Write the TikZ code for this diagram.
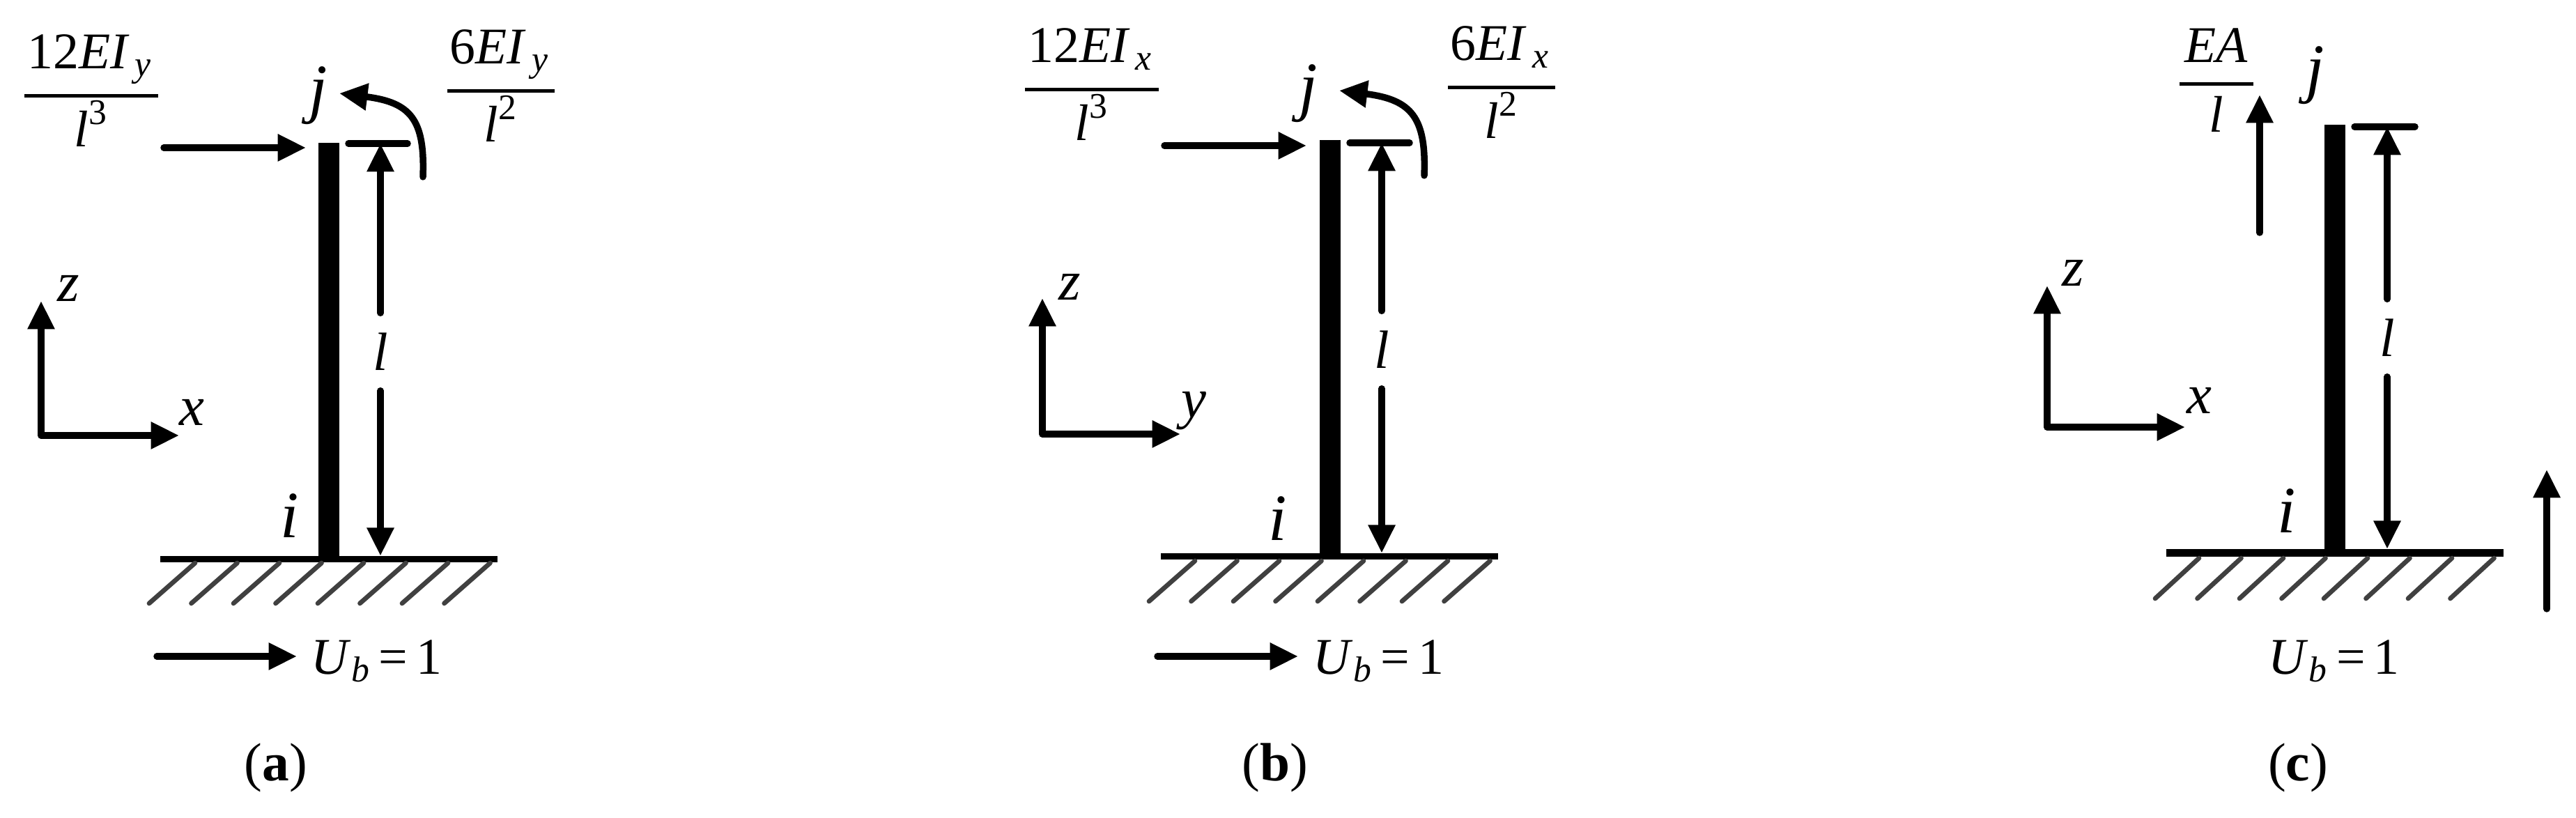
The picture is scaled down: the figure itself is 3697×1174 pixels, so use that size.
\documentclass[tikz,border=0pt]{standalone}
\usepackage{fontspec}
\usepackage{amsmath}
\setmainfont{Liberation Serif}
\usetikzlibrary{arrows.meta,positioning}

\newcommand{\vi}[1]{\text{\textit{#1}}}
\newcommand{\barfrac}[2]{\genfrac{}{}{1.3pt}{1}{\displaystyle\rule[-9pt]{0pt}{0pt}#1}{\displaystyle #2}}

\begin{document}
\begin{tikzpicture}[
    x=0.01cm, y=-0.01cm,
    member/.style={fill=black, inner sep=0pt, minimum width=0.3cm},
    ground/.style={fill=black, inner sep=0pt, minimum width=4.83cm, minimum height=0.09cm},
    hatch/.style={line width=1.9pt, draw=black!75, line cap=round},
    arrow/.style={-{Triangle[length=11.5pt, width=10.5pt]}, line width=2.7pt, line cap=round},
    line/.style={line width=2.7pt, line cap=round},
    label/.style={font=\fontsize{21}{25}\selectfont, inner sep=0pt},
    axis label/.style={font=\fontsize{23}{25}\selectfont\itshape, inner sep=0pt},
    node label/.style={font=\fontsize{27}{30}\selectfont\itshape, inner sep=0pt},
    dim label/.style={font=\fontsize{22}{25}\selectfont\itshape, inner sep=0pt, minimum height=1.1cm},
    caption/.style={font=\fontsize{22}{25}\selectfont, inner sep=0pt}
]
\useasboundingbox (0,0) rectangle (3697,1174);

% panel a
\node[member, minimum height=5.95cm] (colA) at (472,503) {};
\node[ground] (baseA) at (472,803) {};
\foreach \k in {0,...,7} \draw[hatch] ({280+60.5*\k},808) -- ++(-66,58);
\node[node label] (jA) at (457,137) {j};
\node[node label] (iA) at (416,740) {i};
\node[dim label] (lA) at (546,505) {l};
\coordinate (tickAl) at (500,206);
\coordinate (tickAr) at (585,206);
\draw[line] (tickAl) -- (tickAr);
\draw[arrow] (lA.north) -- (lA.north |- tickAr);
\draw[arrow] (lA.south) -- (lA.south |- baseA.north);
\node[label] (fracAa) at (131,130) {$\barfrac{\mkern1mu\text{12}\vi{EI}\mkern2mu_{\vi{y}}\mkern2mu}{\vi{l}^{\text{3}}}$};
\node[label] (fracAb) at (719,123) {$\barfrac{\mkern1mu\text{6}\vi{EI}\mkern2mu_{\vi{y}}\mkern2mu}{\vi{l}^{\text{2}}}$};
\coordinate (loadA) at (235,212);
\coordinate (loadAe) at (439,212);
\draw[arrow] (loadA) -- (loadAe);
\coordinate (turnA) at (607,254);
\coordinate (turnAe) at (487,134);
\draw[arrow] (turnA) .. controls (610,172) and (590,147) .. (turnAe);
\coordinate (axisA) at (59,625);
\node[axis label] (zA) at (98,414) {z};
\node[axis label] (xA) at (275,592) {x};
\coordinate (zAe) at (59,432);
\coordinate (xAe) at (257,625);
\draw[arrow] (axisA) -- (zAe);
\draw[arrow] (axisA) -- (xAe);
\coordinate (unitA) at (225,942);
\node[label, anchor=west] (ubA) at (446,949) {$\vi{U}_{\vi{b}}$\,=\,1};
\draw[arrow] (unitA) -- (426,942);
\node[caption] (capA) at (396,1102) {(\textbf{a})};

% panel b
\node[member, minimum height=5.95cm] (colB) at (1908.5,499) {};
\node[ground] (baseB) at (1908,799) {};
\foreach \k in {0,...,7} \draw[hatch] ({1715+60.5*\k},805) -- ++(-66,58);
\node[node label] (jB) at (1878,134) {j};
\node[node label] (iB) at (1834,744) {i};
\node[dim label] (lB) at (1983,502) {l};
\coordinate (tickBl) at (1937,205);
\coordinate (tickBr) at (2023,205);
\draw[line] (tickBl) -- (tickBr);
\draw[arrow] (lB.north) -- (lB.north |- tickBr);
\draw[arrow] (lB.south) -- (lB.south |- baseB.north);
\node[label] (fracBa) at (1567,121) {$\barfrac{\mkern1mu\text{12}\vi{EI}\mkern2mu_{\vi{x}}\mkern2mu}{\vi{l}^{\text{3}}}$};
\node[label] (fracBb) at (2155,118) {$\barfrac{\mkern1mu\text{6}\vi{EI}\mkern2mu_{\vi{x}}\mkern2mu}{\vi{l}^{\text{2}}}$};
\coordinate (loadB) at (1671,209);
\coordinate (loadBe) at (1875,209);
\draw[arrow] (loadB) -- (loadBe);
\coordinate (turnB) at (2044,252);
\coordinate (turnBe) at (1922,130);
\draw[arrow] (turnB) .. controls (2047,170) and (2027,143) .. (turnBe);
\coordinate (axisB) at (1496,623);
\node[axis label] (zB) at (1535,412) {z};
\node[axis label] (yB) at (1713,590) {y};
\coordinate (zBe) at (1496,428);
\coordinate (yBe) at (1694,623);
\draw[arrow] (axisB) -- (zBe);
\draw[arrow] (axisB) -- (yBe);
\coordinate (unitB) at (1661,942);
\node[label, anchor=west] (ubB) at (1884,949) {$\vi{U}_{\vi{b}}$\,=\,1};
\draw[arrow] (unitB) -- (1863,942);
\node[caption] (capB) at (1830,1102) {(\textbf{b})};

% panel c
\node[member, minimum height=6.1cm] (colC) at (3350.5,484) {};
\node[ground, minimum height=0.11cm, minimum width=4.84cm] (baseC) at (3351,794) {};
\foreach \k in {0,...,7} \draw[hatch] ({3156+60.5*\k},801) -- ++(-63,58);
\node[node label] (jC) at (3323,108) {j};
\node[node label] (iC) at (3282,733) {i};
\node[dim label] (lC) at (3426,485) {l};
\coordinate (tickCl) at (3379,182);
\coordinate (tickCr) at (3466,182);
\draw[line] (tickCl) -- (tickCr);
\draw[arrow] (lC.north) -- (lC.north |- tickCr);
\draw[arrow] (lC.south) -- (lC.south |- baseC.north);
\node[label] (fracC) at (3181,115) {$\genfrac{}{}{1.3pt}{0}{\mkern2mu\vi{EA}\mkern2mu}{\vi{l}}$};
\coordinate (loadC) at (3243,334);
\coordinate (loadCe) at (3243,136);
\draw[arrow] (loadC) -- (loadCe);
\coordinate (axisC) at (2938,613);
\node[axis label] (zC) at (2975,392) {z};
\node[axis label] (xC) at (3156,575) {x};
\coordinate (zCe) at (2938,410);
\coordinate (xCe) at (3136,613);
\draw[arrow] (axisC) -- (zCe);
\draw[arrow] (axisC) -- (xCe);
\coordinate (unitC) at (3655,874);
\coordinate (unitCe) at (3655,674);
\draw[arrow] (unitC) -- (unitCe);
\node[label, anchor=west] (ubC) at (3255,949) {$\vi{U}_{\vi{b}}$\,=\,1};
\node[caption] (capC) at (3298,1102) {(\textbf{c})};

\end{tikzpicture}
\end{document}
